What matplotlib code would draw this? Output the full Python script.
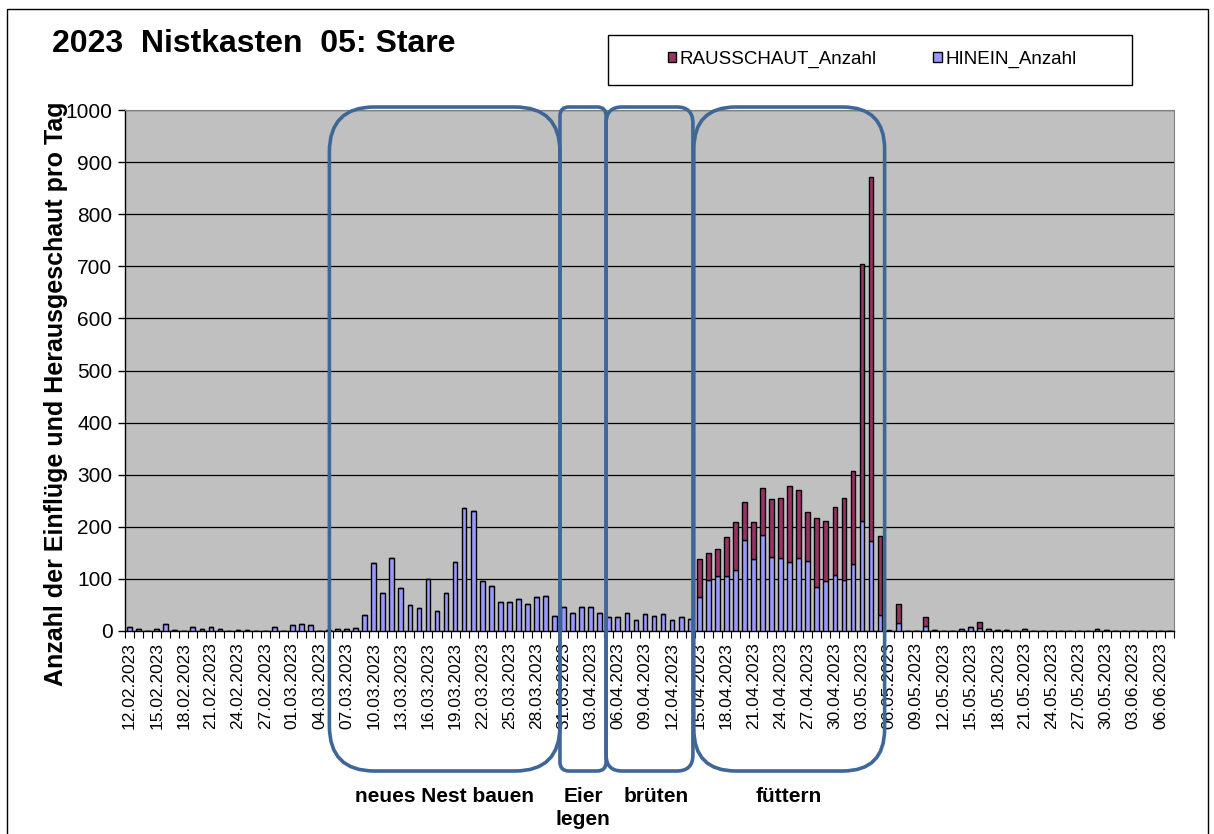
import numpy as np
import pandas as pd
import matplotlib
matplotlib.use("Agg")
from matplotlib import pyplot as plt
from matplotlib.patches import FancyBboxPatch, Rectangle

plt.rcParams['font.family'] = ['Liberation Sans', 'DejaVu Sans']

# categories: one row per day, 12.02. - 07.06.2023
# (the sheet has one extra row after 28.02. and no row for 31.05.)
dates = pd.date_range('2023-02-12', '2023-06-07').strftime('%d.%m.%Y').tolist()
dates.insert(17, '')
dates.remove('31.05.2023')

hinein = [
    8, 3, 0, 3, 13, 2, 0, 8, 4, 7, 4, 0, 2, 2, 0, 0, 7,
    0,
    12, 14, 11, 0, 1, 3, 3, 5, 30, 131, 73, 141, 83, 49, 44, 100, 39, 73,
    133, 236, 231, 96, 86, 55, 55, 62, 51, 66, 67, 29,
    47, 34, 47, 47, 34, 27, 27, 34, 21, 32, 29, 32, 21, 27, 23,
    65, 98, 105, 106, 117, 175, 138, 184, 142, 141, 132, 140, 135, 85, 96,
    107, 97, 128, 211, 173, 30,
    0, 15, 0, 0, 9, 2, 0, 0, 3, 7, 6, 4, 2, 2, 0, 3,
    0, 0, 0, 0, 0, 0, 0, 3, 2, 0, 0, 0, 0, 0, 0, 0,
]
rausschaut = [
    0, 0, 0, 0, 0, 0, 0, 0, 0, 0, 0, 0, 0, 0, 0, 0, 0,
    0,
    0, 0, 0, 0, 0, 0, 0, 0, 0, 0, 0, 0, 0, 0, 0, 0, 0, 0,
    0, 0, 0, 0, 0, 0, 0, 0, 0, 0, 0, 0,
    0, 0, 0, 0, 0, 0, 0, 0, 0, 0, 0, 0, 0, 0, 0,
    74, 51, 53, 74, 93, 73, 72, 90, 111, 115, 147, 130, 94, 132, 116,
    131, 158, 180, 494, 699, 152,
    2, 36, 0, 0, 18, 0, 0, 0, 0, 0, 11, 0, 0, 0, 0, 0,
    0, 0, 0, 0, 0, 0, 0, 0, 0, 0, 0, 0, 0, 0, 0, 0,
]

# phases (category positions of the rounded frames)
phase_names = ['neues Nest bauen', 'Eier', 'brüten', 'füttern']
phase_from = [22.1, 47.6, 52.7, 62.4]
phase_to = [47.6, 52.7, 62.3, 83.5]

W, H = 1214, 834
fig = plt.figure(figsize=(W / 100, H / 100), dpi=100)
ax = fig.add_axes([125 / W, (H - 631) / H, 1049 / W, 521 / H])

x = np.arange(len(dates))
b_in = ax.bar(x, hinein, width=0.52, color='#9999FF', edgecolor='black',
              linewidth=1.0, label='HINEIN_Anzahl', zorder=3)
b_out = ax.bar(x, rausschaut, bottom=hinein, width=0.52, color='#993366',
               edgecolor='black', linewidth=1.0, label='RAUSSCHAUT_Anzahl', zorder=3)

ax.set_facecolor('#C0C0C0')
ax.set_xlim(-0.5, len(dates) - 0.5)
ax.set_ylim(0, 1000)
ax.set_yticks(range(0, 1001, 100))
ax.yaxis.grid(True, color='black', linewidth=0.9)
ax.set_axisbelow(True)
ax.tick_params(axis='y', direction='out', length=5, width=1, labelsize=15, pad=4)

ax.set_xticks(x[::3])
ax.set_xticklabels([dates[i] for i in x[::3]], rotation=90, fontsize=12.5)
ax.set_xticks(np.arange(-0.5, len(dates), 1), minor=True)
ax.tick_params(axis='x', which='major', length=0, pad=8)
ax.tick_params(axis='x', which='minor', direction='out', length=5, width=0.8)

for s in ['left', 'bottom']:
    ax.spines[s].set_color('black')
    ax.spines[s].set_linewidth(1.0)
for s in ['top', 'right']:
    ax.spines[s].set_color('#808080')
    ax.spines[s].set_linewidth(0.8)

# overlay in pixel units for frame, title, legend box and phase frames
ov = fig.add_axes([0, 0, 1, 1])
ov.set_xlim(0, W)
ov.set_ylim(H, 0)
ov.axis('off')
ov.set_zorder(5)

ov.add_patch(Rectangle((7, 9), 1201, 900, fill=False, ec='black', lw=1))
ov.text(52, 52, '2023  Nistkasten  05: Stare', fontsize=23, weight='bold',
        ha='left', va='baseline')
ov.text(56, 394, 'Anzahl der Einflüge und Herausgeschaut pro Tag', rotation=90,
        fontsize=18, weight='bold', ha='center', va='center')

ov.add_patch(Rectangle((608, 35), 524, 50, fill=False, ec='black', lw=1))
leg = fig.legend(handles=[b_out, b_in], loc='center', ncol=2, frameon=False,
                 bbox_to_anchor=(872 / W, 1 - 59.5 / H), fontsize=13.5,
                 handlelength=0.45, handleheight=0.45, handletextpad=0.2,
                 columnspacing=3.0)

radii = [45, 9, 16, 42]
for name, a, b, r in zip(phase_names, phase_from, phase_to, radii):
    x0 = ax.transData.transform((a, 0))[0]
    x1 = ax.transData.transform((b, 0))[0]
    ov.add_patch(FancyBboxPatch((x0, 107), x1 - x0, 664,
                                boxstyle=f'round,pad=0,rounding_size={r}',
                                fill=False, ec='#3E6797', lw=2.6))
    dx = 7 if name == 'brüten' else 0
    ov.text((x0 + x1) / 2 + dx, 802, name, fontsize=15, weight='bold',
            ha='center', va='baseline')
    if name == 'Eier':
        ov.text((x0 + x1) / 2, 825, 'legen', fontsize=15, weight='bold',
                ha='center', va='baseline')

fig.savefig('out.png', dpi=100)
